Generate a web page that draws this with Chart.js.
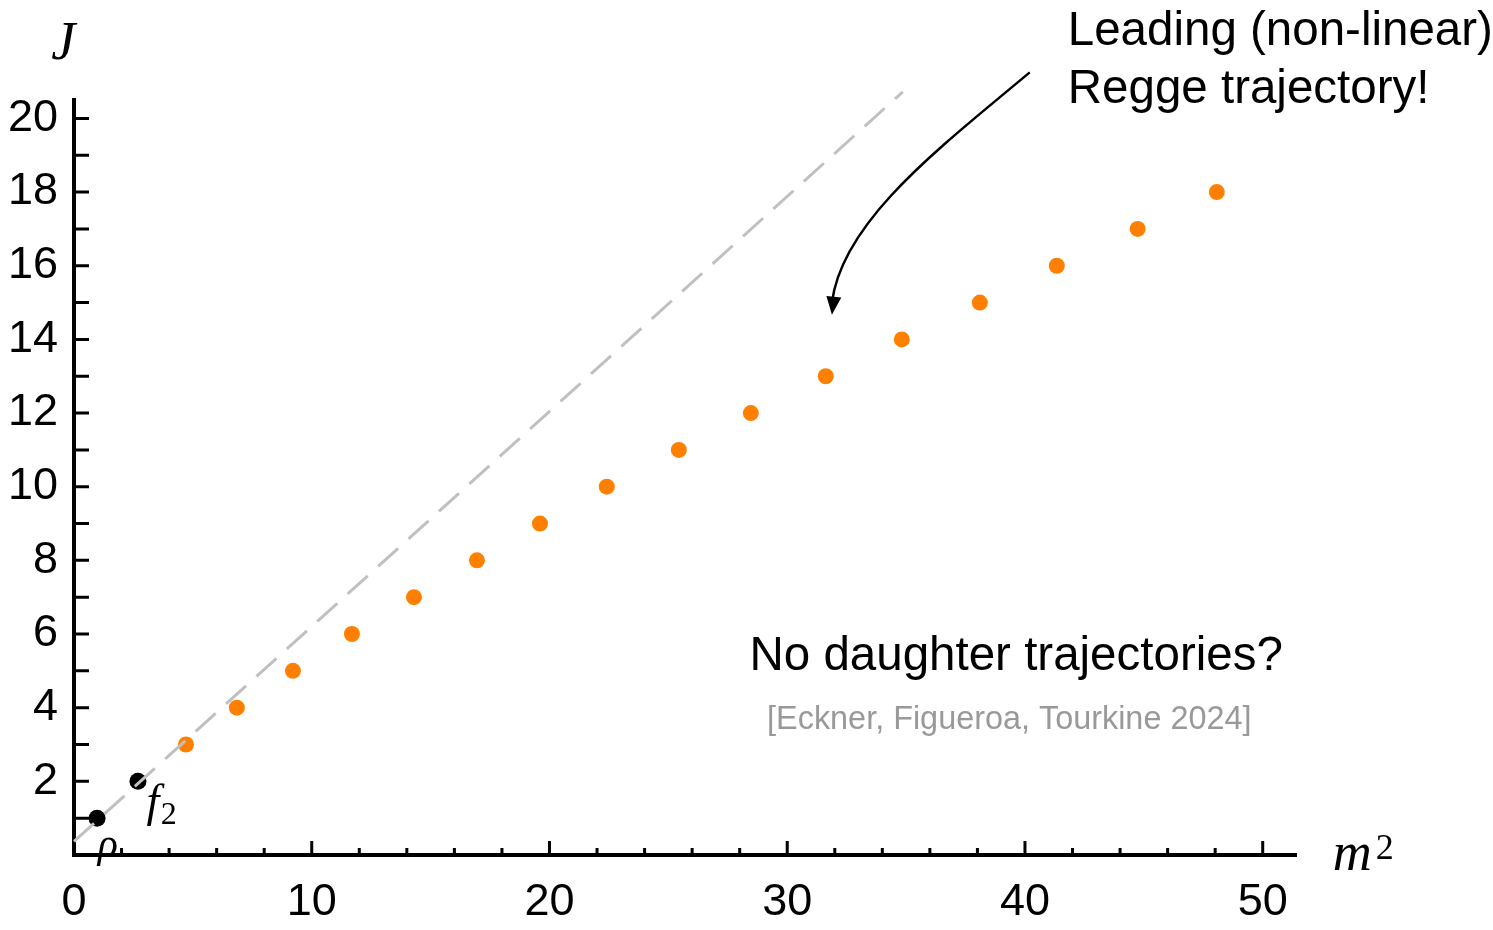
<!DOCTYPE html>
<html>
<head>
<meta charset="utf-8">
<script src="https://cdn.jsdelivr.net/npm/chart.js@4"></script>
<style>
  body { margin: 0; background: #fff; }
  #wrap { width: 1493px; height: 930px; }
</style>
</head>
<body>
<div id="wrap"><canvas id="regge"></canvas></div>
<script>
// leading trajectory (orange dots)
const leadM2 = [4.71, 6.85, 9.21, 11.69, 14.30, 16.95, 19.60, 22.41, 25.44, 28.47, 31.62, 34.82, 38.10, 41.34, 44.74, 48.07];
const leadJ = [3, 4, 5, 6, 7, 8, 9, 10, 11, 12, 13, 14, 15, 16, 17, 18];

// rho and f2 (black dots)
const mesonM2 = [0.97, 2.69];
const mesonJ = [1, 2];

// dashed linear trajectory
const linM2 = [0, 34.86];
const linJ = [0.37, 20.72];

const xTickLabels = [0, 10, 20, 30, 40, 50];
const yTickLabels = [2, 4, 6, 8, 10, 12, 14, 16, 18, 20];

const sans = "'Liberation Sans', Arial, sans-serif";
const serif = "'Liberation Serif', 'DejaVu Serif', serif";

function pts(xs, ys) {
  return xs.map((x, i) => ({ x: x, y: ys[i] }));
}

const extras = {
  id: 'extras',
  afterDraw(chart) {
    const ctx = chart.ctx;
    const xs = chart.scales.x, ys = chart.scales.y;
    const px = v => xs.getPixelForValue(v);
    const py = v => ys.getPixelForValue(v);
    const a = chart.chartArea;
    ctx.save();

    // inward tick marks
    ctx.strokeStyle = '#000';
    ctx.lineWidth = 3;
    ctx.beginPath();
    for (let j = 1; j <= 20; j++) {
      ctx.moveTo(a.left, py(j));
      ctx.lineTo(a.left + 15, py(j));
    }
    for (let m = 2; m <= 50; m += 2) {
      const len = m % 10 === 0 ? 14 : 7;
      ctx.moveTo(px(m), a.bottom);
      ctx.lineTo(px(m), a.bottom - len);
    }
    ctx.stroke();

    // axis names
    ctx.fillStyle = '#000';
    ctx.textBaseline = 'alphabetic';
    ctx.textAlign = 'center';
    ctx.font = 'italic 54px ' + serif;
    ctx.fillText('J', px(-0.45), py(21.6));
    ctx.textAlign = 'left';
    ctx.font = 'italic 54px ' + serif;
    ctx.fillText('m', px(52.95), py(-0.4));
    ctx.font = '36px ' + serif;
    ctx.fillText('2', px(54.75), py(-0.1));

    // rho, f2
    ctx.font = 'italic 42px ' + serif;
    ctx.fillText('ρ', px(1.0), py(-0.05));
    ctx.font = 'italic 46px ' + serif;
    ctx.fillText('f', px(3.05), py(1.05));
    ctx.font = '32px ' + serif;
    ctx.fillText('2', px(3.65), py(0.85));

    // texts
    ctx.font = '47.5px ' + sans;
    ctx.fillText('Leading (non-linear)', px(41.8), py(21.98));
    ctx.fillText('Regge trajectory!', px(41.8), py(20.43));
    ctx.textAlign = 'center';
    ctx.fillText('No daughter trajectories?', px(39.63), py(5.02));
    ctx.fillStyle = '#999';
    ctx.font = '32.4px ' + sans;
    ctx.fillText('[Eckner, Figueroa, Tourkine 2024]', px(39.34), py(3.41));

    // curved arrow
    const p0 = [px(40.2), py(21.25)];
    const p1 = [px(36.4), py(19.2)];
    const p2 = [px(32.3), py(17.2)];
    const p3 = [px(31.88), py(14.67)];
    ctx.strokeStyle = '#000';
    ctx.fillStyle = '#000';
    ctx.lineWidth = 2.5;
    ctx.beginPath();
    ctx.moveTo(p0[0], p0[1]);
    ctx.bezierCurveTo(p1[0], p1[1], p2[0], p2[1], p3[0], p3[1] - 12);
    ctx.stroke();
    const ang = Math.atan2(p3[1] - p2[1], p3[0] - p2[0]);
    const L = 18, W = 7.5;
    ctx.beginPath();
    ctx.moveTo(p3[0], p3[1]);
    ctx.lineTo(p3[0] - L * Math.cos(ang) + W * Math.sin(ang), p3[1] - L * Math.sin(ang) - W * Math.cos(ang));
    ctx.lineTo(p3[0] - L * Math.cos(ang) - W * Math.sin(ang), p3[1] - L * Math.sin(ang) + W * Math.cos(ang));
    ctx.closePath();
    ctx.fill();
    ctx.restore();
  }
};

new Chart(document.getElementById('regge'), {
  type: 'scatter',
  data: {
    datasets: [
      {
        type: 'line',
        data: pts(linM2, linJ),
        borderColor: '#c0c0c0',
        borderWidth: 3,
        borderDash: [27, 14],
        pointRadius: 0,
        fill: false,
        clip: false
      },
      {
        data: pts(leadM2, leadJ),
        backgroundColor: '#ff8000',
        borderWidth: 0,
        pointRadius: 8
      },
      {
        data: pts(mesonM2, mesonJ),
        backgroundColor: '#000',
        borderWidth: 0,
        pointRadius: 8.5
      }
    ]
  },
  options: {
    responsive: true,
    maintainAspectRatio: false,
    animation: false,
    layout: { padding: { top: 100, right: 197, left: 0, bottom: 0 } },
    plugins: { legend: { display: false }, tooltip: { enabled: false } },
    scales: {
      x: {
        type: 'linear',
        min: 0,
        max: 51.4,
        grid: { display: false, drawTicks: false },
        border: { color: '#000', width: 4 },
        afterFit: s => { s.height = 75; },
        ticks: {
          stepSize: 10,
          includeBounds: false,
          autoSkip: false,
          maxRotation: 0,
          padding: 21,
          color: '#000',
          font: { family: sans, size: 45 },
          callback: v => xTickLabels.includes(v) ? String(v) : ''
        }
      },
      y: {
        type: 'linear',
        min: 0,
        max: 20.5,
        grid: { display: false, drawTicks: false },
        border: { color: '#000', width: 4 },
        afterFit: s => { s.width = 74; },
        ticks: {
          stepSize: 2,
          includeBounds: false,
          autoSkip: false,
          padding: 16,
          color: '#000',
          font: { family: sans, size: 45 },
          callback: v => yTickLabels.includes(v) ? String(v) : ''
        }
      }
    }
  },
  plugins: [extras]
});
</script>
</body>
</html>
